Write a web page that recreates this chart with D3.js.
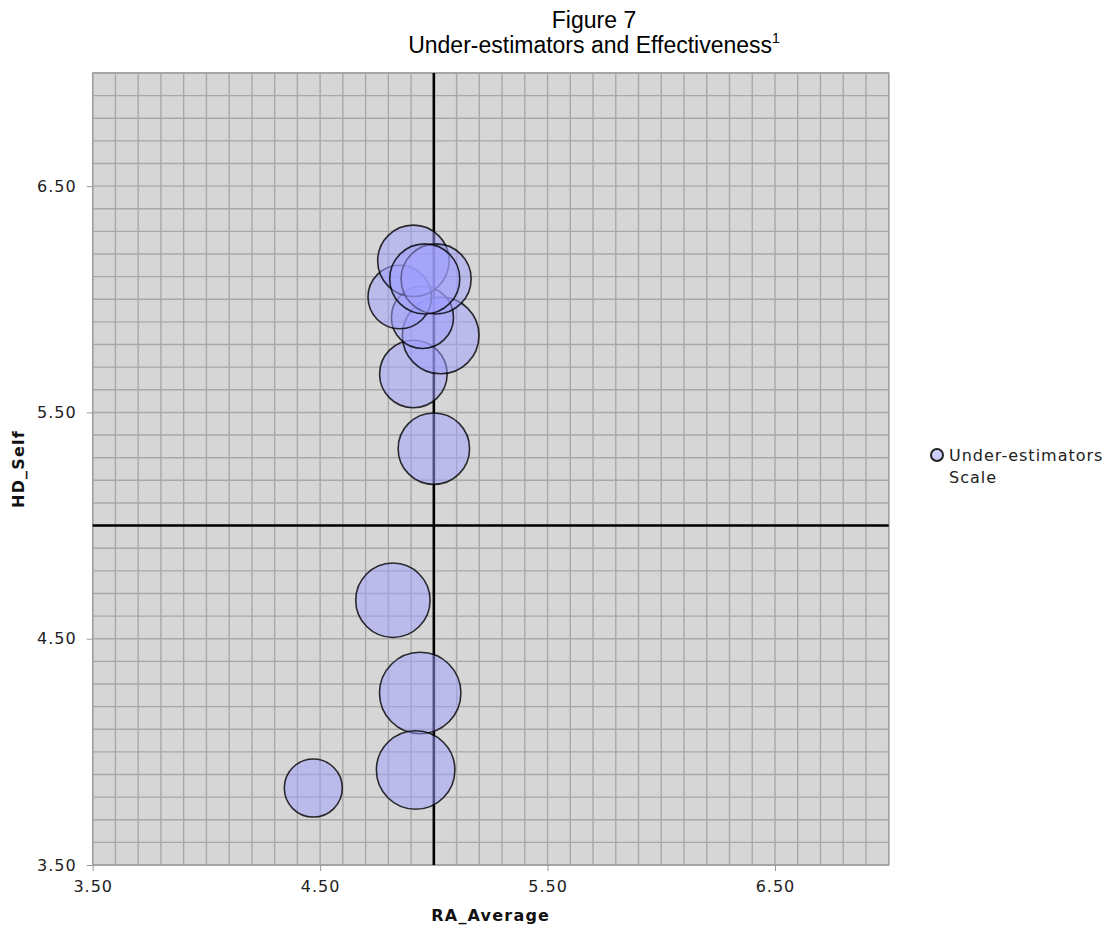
<!DOCTYPE html>
<html>
<head>
<meta charset="utf-8">
<script src="https://cdn.jsdelivr.net/npm/d3@7"></script>
<style>
  html, body { margin: 0; padding: 0; background: #fff; }
  svg { display: block; }
</style>
</head>
<body>
<svg id="chart" width="1119" height="928"></svg>
<script>
// ---- data ----
const titleLine1 = "Figure 7";
const titleLine2 = "Under-estimators and Effectiveness";
const seriesName = "Under-estimators Scale";
const xLabel = "RA_Average";
const yLabel = "HD_Self";
const tickValues = [3.5, 4.5, 5.5, 6.5];
const raAverage = [4.82, 4.94, 4.92, 4.47, 5.00, 4.91, 5.03, 4.95, 4.85, 4.91, 5.01, 4.96];
const hdSelf    = [4.67, 4.26, 3.92, 3.84, 5.34, 5.67, 5.84, 5.92, 6.01, 6.17, 6.09, 6.09];
const bubbleSize = [0.327, 0.358, 0.345, 0.255, 0.314, 0.297, 0.337, 0.273, 0.279, 0.314, 0.308, 0.308];
const crossX = 5.0, crossY = 5.0;
const domainMin = 3.5, domainMax = 7.0, gridStep = 0.1;

// ---- layout ----
const svg = d3.select("#chart");
const pL = 92.7, pR = 888.7, pT = 73, pB = 865;
const x = d3.scaleLinear().domain([domainMin, domainMax]).range([pL, pR]);
const y = d3.scaleLinear().domain([domainMin, domainMax]).range([pB, pT]);

const tickFont = "'DejaVu Sans', Verdana, sans-serif";
const titleX = 594;

// title
svg.append("text").attr("x", titleX).attr("y", 28).attr("text-anchor", "middle")
  .style("font-family", "'Liberation Sans', Arial, sans-serif").style("font-size", "23px").attr("fill", "#000")
  .text(titleLine1);
const t2 = svg.append("text").attr("x", titleX).attr("y", 53).attr("text-anchor", "middle")
  .style("font-family", "'Liberation Sans', Arial, sans-serif").style("font-size", "23px").attr("fill", "#000");
t2.append("tspan").text(titleLine2);
t2.append("tspan").attr("dy", -10).style("font-size", "14px").text("1");

// plot background
svg.append("rect").attr("x", pL).attr("y", pT).attr("width", pR - pL).attr("height", pB - pT)
  .attr("fill", "#d6d6d6");

// grid
const gridVals = d3.range(0, Math.round((domainMax - domainMin) / gridStep) + 1).map(i => domainMin + i * gridStep);
const grid = svg.append("g").attr("stroke", "#a8a8a8").attr("stroke-width", 1.4);
grid.selectAll("line.v").data(gridVals).join("line").attr("class", "v")
  .attr("x1", d => x(d)).attr("x2", d => x(d)).attr("y1", pT).attr("y2", pB);
grid.selectAll("line.h").data(gridVals).join("line").attr("class", "h")
  .attr("y1", d => y(d)).attr("y2", d => y(d)).attr("x1", pL).attr("x2", pR);

svg.append("rect").attr("x", pL).attr("y", pT).attr("width", pR - pL).attr("height", pB - pT)
  .attr("fill", "none").attr("stroke", "#a0a0a0").attr("stroke-width", 1.5);

// crosshair
svg.append("line").attr("x1", x(crossX)).attr("x2", x(crossX)).attr("y1", pT).attr("y2", pB)
  .attr("stroke", "#000").attr("stroke-width", 2.6);
svg.append("line").attr("y1", y(crossY)).attr("y2", y(crossY)).attr("x1", pL).attr("x2", pR)
  .attr("stroke", "#000").attr("stroke-width", 2.6);

// bubbles
const data = raAverage.map((v, i) => ({x: v, y: hdSelf[i], z: bubbleSize[i]}));
svg.append("g").selectAll("circle").data(data).join("circle")
  .attr("cx", d => x(d.x)).attr("cy", d => y(d.y))
  .attr("r", d => (x(d.z) - x(0)) / 2)
  .attr("fill", "rgba(158,158,255,0.5)")
  .attr("stroke", "rgba(0,0,0,0.8)").attr("stroke-width", 1.6);

// axes
const xAxis = d3.axisBottom(x).tickValues(tickValues).tickFormat(d3.format(".2f")).tickSizeOuter(0).tickSize(6).tickPadding(10);
const gx = svg.append("g").attr("transform", `translate(0,${pB})`).call(xAxis);
const yAxis = d3.axisLeft(y).tickValues(tickValues).tickFormat(d3.format(".2f")).tickSizeOuter(0).tickSize(6).tickPadding(10);
const gy = svg.append("g").attr("transform", `translate(${pL},0)`).call(yAxis);
[gx, gy].forEach(g => {
  g.select(".domain").remove();
  g.selectAll(".tick line").attr("stroke", "#999");
  g.selectAll(".tick text").style("font-family", tickFont).style("font-size", "16px")
    .style("letter-spacing", "1px").attr("fill", "#222");
});

// axis titles
svg.append("text").attr("x", (pL + pR) / 2).attr("y", 921).attr("text-anchor", "middle")
  .style("font-family", tickFont).style("font-weight", "bold").style("font-size", "16px")
  .style("letter-spacing", "1.2px").attr("fill", "#111").text(xLabel);
svg.append("text").attr("transform", `translate(24,${(pT + pB) / 2}) rotate(-90)`).attr("text-anchor", "middle")
  .style("font-family", tickFont).style("font-weight", "bold").style("font-size", "16px")
  .style("letter-spacing", "1.2px").attr("fill", "#111").text(yLabel);

// legend
const lg = svg.append("g").attr("transform", "translate(937,455)");
lg.append("circle").attr("r", 6).attr("fill", "rgba(158,158,255,0.5)").attr("stroke", "#222").attr("stroke-width", 2);
const words = seriesName.split(" ");
lg.append("text").attr("x", 12).attr("y", 6).style("font-family", tickFont).style("font-size", "16px")
  .style("letter-spacing", "1px").attr("fill", "#222").text(words[0]);
lg.append("text").attr("x", 12).attr("y", 28).style("font-family", tickFont).style("font-size", "16px")
  .style("letter-spacing", "1px").attr("fill", "#222").text(words.slice(1).join(" "));
</script>
</body>
</html>
